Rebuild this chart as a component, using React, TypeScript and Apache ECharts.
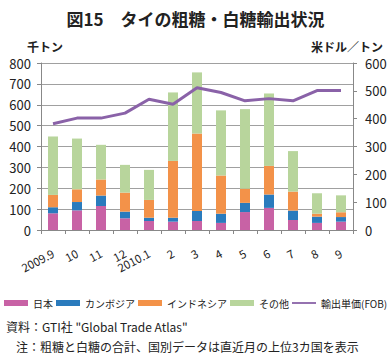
import React, { useEffect, useRef } from "react";
import * as echarts from "echarts";

const categories = ["2009.9", "10", "11", "12", "2010.1", "2", "3", "4", "5", "6", "7", "8", "9"];
const japan = [80, 94, 115, 56, 43, 40, 43, 34, 86, 106, 48, 34, 40];
const cambodia = [29, 40, 50, 32, 16, 19, 48, 44, 44, 64, 45, 30, 22];
const indonesia = [59, 61, 77, 91, 85, 272, 371, 183, 68, 137, 91, 14, 23];
const others = [280, 243, 166, 133, 144, 328, 293, 312, 381, 347, 194, 98, 81];
const fobPrice = [382, 402, 402, 420, 470, 452, 511, 494, 464, 472, 464, 501, 501];
const leftTicks = { min: 0, max: 800, interval: 100 };
const rightTicks = { min: 0, max: 600, interval: 100 };

const FONT = "'Noto Sans CJK JP', 'Noto Sans', sans-serif";
const COLORS = {
  japan: "#c862a5",
  cambodia: "#2a7bbd",
  indonesia: "#f39249",
  others: "#b8d59c",
  line: "#8a62a8",
};

export default function App() {
  const ref = useRef<HTMLDivElement>(null);
  useEffect(() => {
    if (!ref.current) return;
    const chart = echarts.init(ref.current, undefined, { renderer: "svg" });
    const barCommon = {
      type: "bar" as const,
      stack: "total",
      barWidth: 10,
      yAxisIndex: 0,
    };
    chart.setOption({
      animation: false,
      textStyle: { fontFamily: FONT },
      title: {
        text: "図15　タイの粗糖・白糖輸出状況",
        left: "center",
        top: 5,
        textStyle: { fontSize: 17, fontWeight: "bold", color: "#222", fontFamily: FONT },
      },
      legend: {
        left: 4,
        top: 298,
        width: 387,
        padding: 0,
        itemWidth: 24,
        itemHeight: 6,
        itemGap: 3,
        textStyle: { fontSize: 10, color: "#222", fontFamily: FONT },
        data: [
          { name: "日本", icon: "rect" },
          { name: "カンボジア", icon: "rect" },
          { name: "インドネシア", icon: "rect" },
          { name: "その他", icon: "rect" },
          { name: "輸出単価(FOB)", icon: "path://M0,0H40V3H0Z" },
        ],
      },
      grid: { left: 41, right: 38, top: 63, bottom: 127, containLabel: false },
      xAxis: {
        type: "category",
        data: categories,
        axisLine: { lineStyle: { color: "#888", width: 1 } },
        axisTick: { show: true, alignWithLabel: false, length: 4, lineStyle: { color: "#888" } },
        axisLabel: { rotate: 28, fontSize: 11.5, color: "#222", margin: 22, interval: 0, fontFamily: FONT },
      },
      yAxis: [
        {
          type: "value",
          ...leftTicks,
          axisLine: { show: true, lineStyle: { color: "#888" } },
          axisTick: { show: true, length: 4, lineStyle: { color: "#888" } },
          axisLabel: { fontSize: 13, color: "#222", margin: 10 },
          splitLine: { show: true, lineStyle: { color: "#a0a0a0", width: 1 } },
        },
        {
          type: "value",
          ...rightTicks,
          position: "right",
          axisLine: { show: true, lineStyle: { color: "#888" } },
          axisTick: { show: true, length: 4, lineStyle: { color: "#888" } },
          axisLabel: { fontSize: 13, color: "#222", margin: 12 },
          splitLine: { show: false },
        },
      ],
      series: [
        { ...barCommon, name: "日本", data: japan, itemStyle: { color: COLORS.japan } },
        { ...barCommon, name: "カンボジア", data: cambodia, itemStyle: { color: COLORS.cambodia } },
        { ...barCommon, name: "インドネシア", data: indonesia, itemStyle: { color: COLORS.indonesia } },
        { ...barCommon, name: "その他", data: others, itemStyle: { color: COLORS.others } },
        {
          type: "line",
          name: "輸出単価(FOB)",
          yAxisIndex: 1,
          data: fobPrice,
          showSymbol: false,
          symbol: "none",
          lineStyle: { color: COLORS.line, width: 3 },
          itemStyle: { color: COLORS.line },
        },
      ],
      graphic: [
        {
          type: "text",
          left: 27,
          top: 40,
          style: { text: "千トン", fontSize: 12, fontWeight: "bold", fill: "#222", fontFamily: FONT },
        },
        {
          type: "text",
          right: 8,
          top: 40,
          style: { text: "米ドル／トン", fontSize: 12, fontWeight: "bold", fill: "#222", fontFamily: FONT },
        },
        {
          type: "text",
          left: 6,
          top: 320,
          style: { text: '資料：GTI社 "Global Trade Atlas"', fontSize: 12, fill: "#222", fontFamily: FONT },
        },
        {
          type: "text",
          left: 16,
          top: 340,
          style: { text: "注：粗糖と白糖の合計、国別データは直近月の上位3カ国を表示", fontSize: 12, fill: "#222", fontFamily: FONT },
        },
      ],
    });
    return () => chart.dispose();
  }, []);
  return (
    <div
      ref={ref}
      style={{ position: "absolute", left: 0, top: 0, width: 391, height: 357, background: "#fff" }}
    />
  );
}
